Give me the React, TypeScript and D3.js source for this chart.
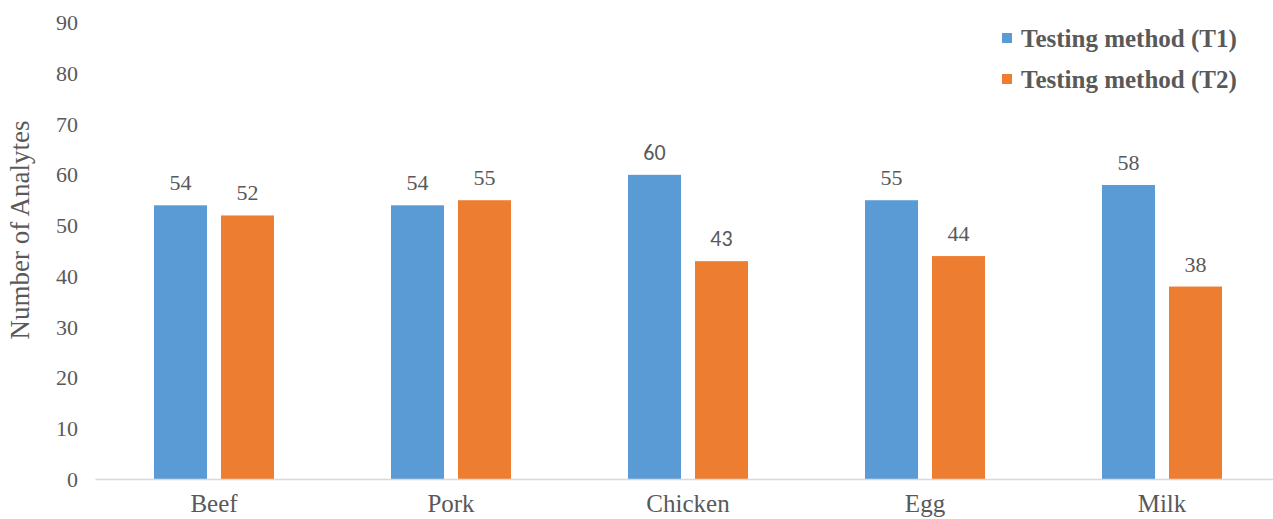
import React, { useEffect, useRef } from "react";
import * as d3 from "d3";

const categories = ["Beef", "Pork", "Chicken", "Egg", "Milk"];
const seriesNames = ["Testing method (T1)", "Testing method (T2)"];
const t1Values = [54, 54, 60, 55, 58];
const t2Values = [52, 55, 43, 44, 38];
const yTicks = [0, 10, 20, 30, 40, 50, 60, 70, 80, 90];
// categories whose value labels are set in a sans face
const sansLabelCategories = ["Chicken"];

const W = 1273;
const H = 519;
const colors = ["#5B9BD5", "#ED7D31"];
const textColor = "#595959";
const serif = "'Liberation Serif', 'Times New Roman', serif";
const sans = "Carlito, 'Liberation Sans', Arial, sans-serif";

export default function App() {
  const ref = useRef<SVGSVGElement | null>(null);

  useEffect(() => {
    const svg = d3.select(ref.current);
    svg.selectAll("*").remove();

    const x0 = d3
      .scaleBand<string>()
      .domain(categories)
      .range([95.5, 1280.5])
      .paddingInner(0.4937)
      .paddingOuter(0.2468);
    const x1 = d3
      .scaleBand<string>()
      .domain(seriesNames)
      .range([0, x0.bandwidth()])
      .paddingInner(0.209)
      .paddingOuter(0);
    const y = d3.scaleLinear().domain([0, 90]).range([479.5, 22.5]);

    // y tick labels
    svg
      .append("g")
      .selectAll("text")
      .data(yTicks)
      .join("text")
      .attr("x", 78)
      .attr("y", (d) => y(d) + 7.5)
      .attr("text-anchor", "end")
      .attr("font-family", serif)
      .attr("font-size", 22)
      .attr("fill", textColor)
      .text((d) => String(d));

    // y axis title
    svg
      .append("text")
      .attr("transform", `translate(29,${230}) rotate(-90)`)
      .attr("text-anchor", "middle")
      .attr("font-family", serif)
      .attr("font-size", 27)
      .attr("fill", textColor)
      .text("Number of Analytes");

    const rows = categories.map((c, i) => ({
      cat: c,
      vals: [t1Values[i], t2Values[i]],
    }));

    const groups = svg
      .append("g")
      .selectAll("g")
      .data(rows)
      .join("g")
      .attr("transform", (d) => `translate(${x0(d.cat)},0)`);

    groups
      .selectAll("rect")
      .data((d) => d.vals.map((v, j) => ({ v, j })))
      .join("rect")
      .attr("x", (d) => x1(seriesNames[d.j]) as number)
      .attr("y", (d) => y(d.v))
      .attr("width", x1.bandwidth())
      .attr("height", (d) => y(0) - y(d.v))
      .attr("fill", (d) => colors[d.j]);

    groups
      .selectAll("text")
      .data((d) => d.vals.map((v, j) => ({ v, j, cat: d.cat })))
      .join("text")
      .attr("x", (d) => (x1(seriesNames[d.j]) as number) + x1.bandwidth() / 2)
      .attr("y", (d) => y(d.v) - 15)
      .attr("text-anchor", "middle")
      .attr("font-family", (d) => (sansLabelCategories.includes(d.cat) ? sans : serif))
      .attr("font-size", 22)
      .attr("fill", textColor)
      .text((d) => String(d.v));

    // baseline axis
    svg
      .append("line")
      .attr("x1", 95.5)
      .attr("x2", W)
      .attr("y1", y(0))
      .attr("y2", y(0))
      .attr("stroke", "#D9D9D9")
      .attr("stroke-width", 1.5);

    // category labels
    svg
      .append("g")
      .selectAll("text")
      .data(categories)
      .join("text")
      .attr("x", (d) => (x0(d) as number) + x0.bandwidth() / 2)
      .attr("y", 512)
      .attr("text-anchor", "middle")
      .attr("font-family", serif)
      .attr("font-size", 25)
      .attr("fill", textColor)
      .text((d) => d);

    // legend
    const legend = svg
      .append("g")
      .selectAll("g")
      .data(seriesNames)
      .join("g")
      .attr("transform", (_d, i) => `translate(1002,${38 + i * 41})`);
    legend
      .append("rect")
      .attr("x", 0)
      .attr("y", -5)
      .attr("width", 10)
      .attr("height", 10)
      .attr("fill", (_d, i) => colors[i]);
    legend
      .append("text")
      .attr("x", 19)
      .attr("y", 8.5)
      .attr("font-family", serif)
      .attr("font-weight", "bold")
      .attr("font-size", 25)
      .attr("fill", textColor)
      .text((d) => d);
  }, []);

  return (
    <svg
      ref={ref}
      width={W}
      height={H}
      style={{ position: "absolute", left: 0, top: 0, background: "#fff" }}
    />
  );
}
